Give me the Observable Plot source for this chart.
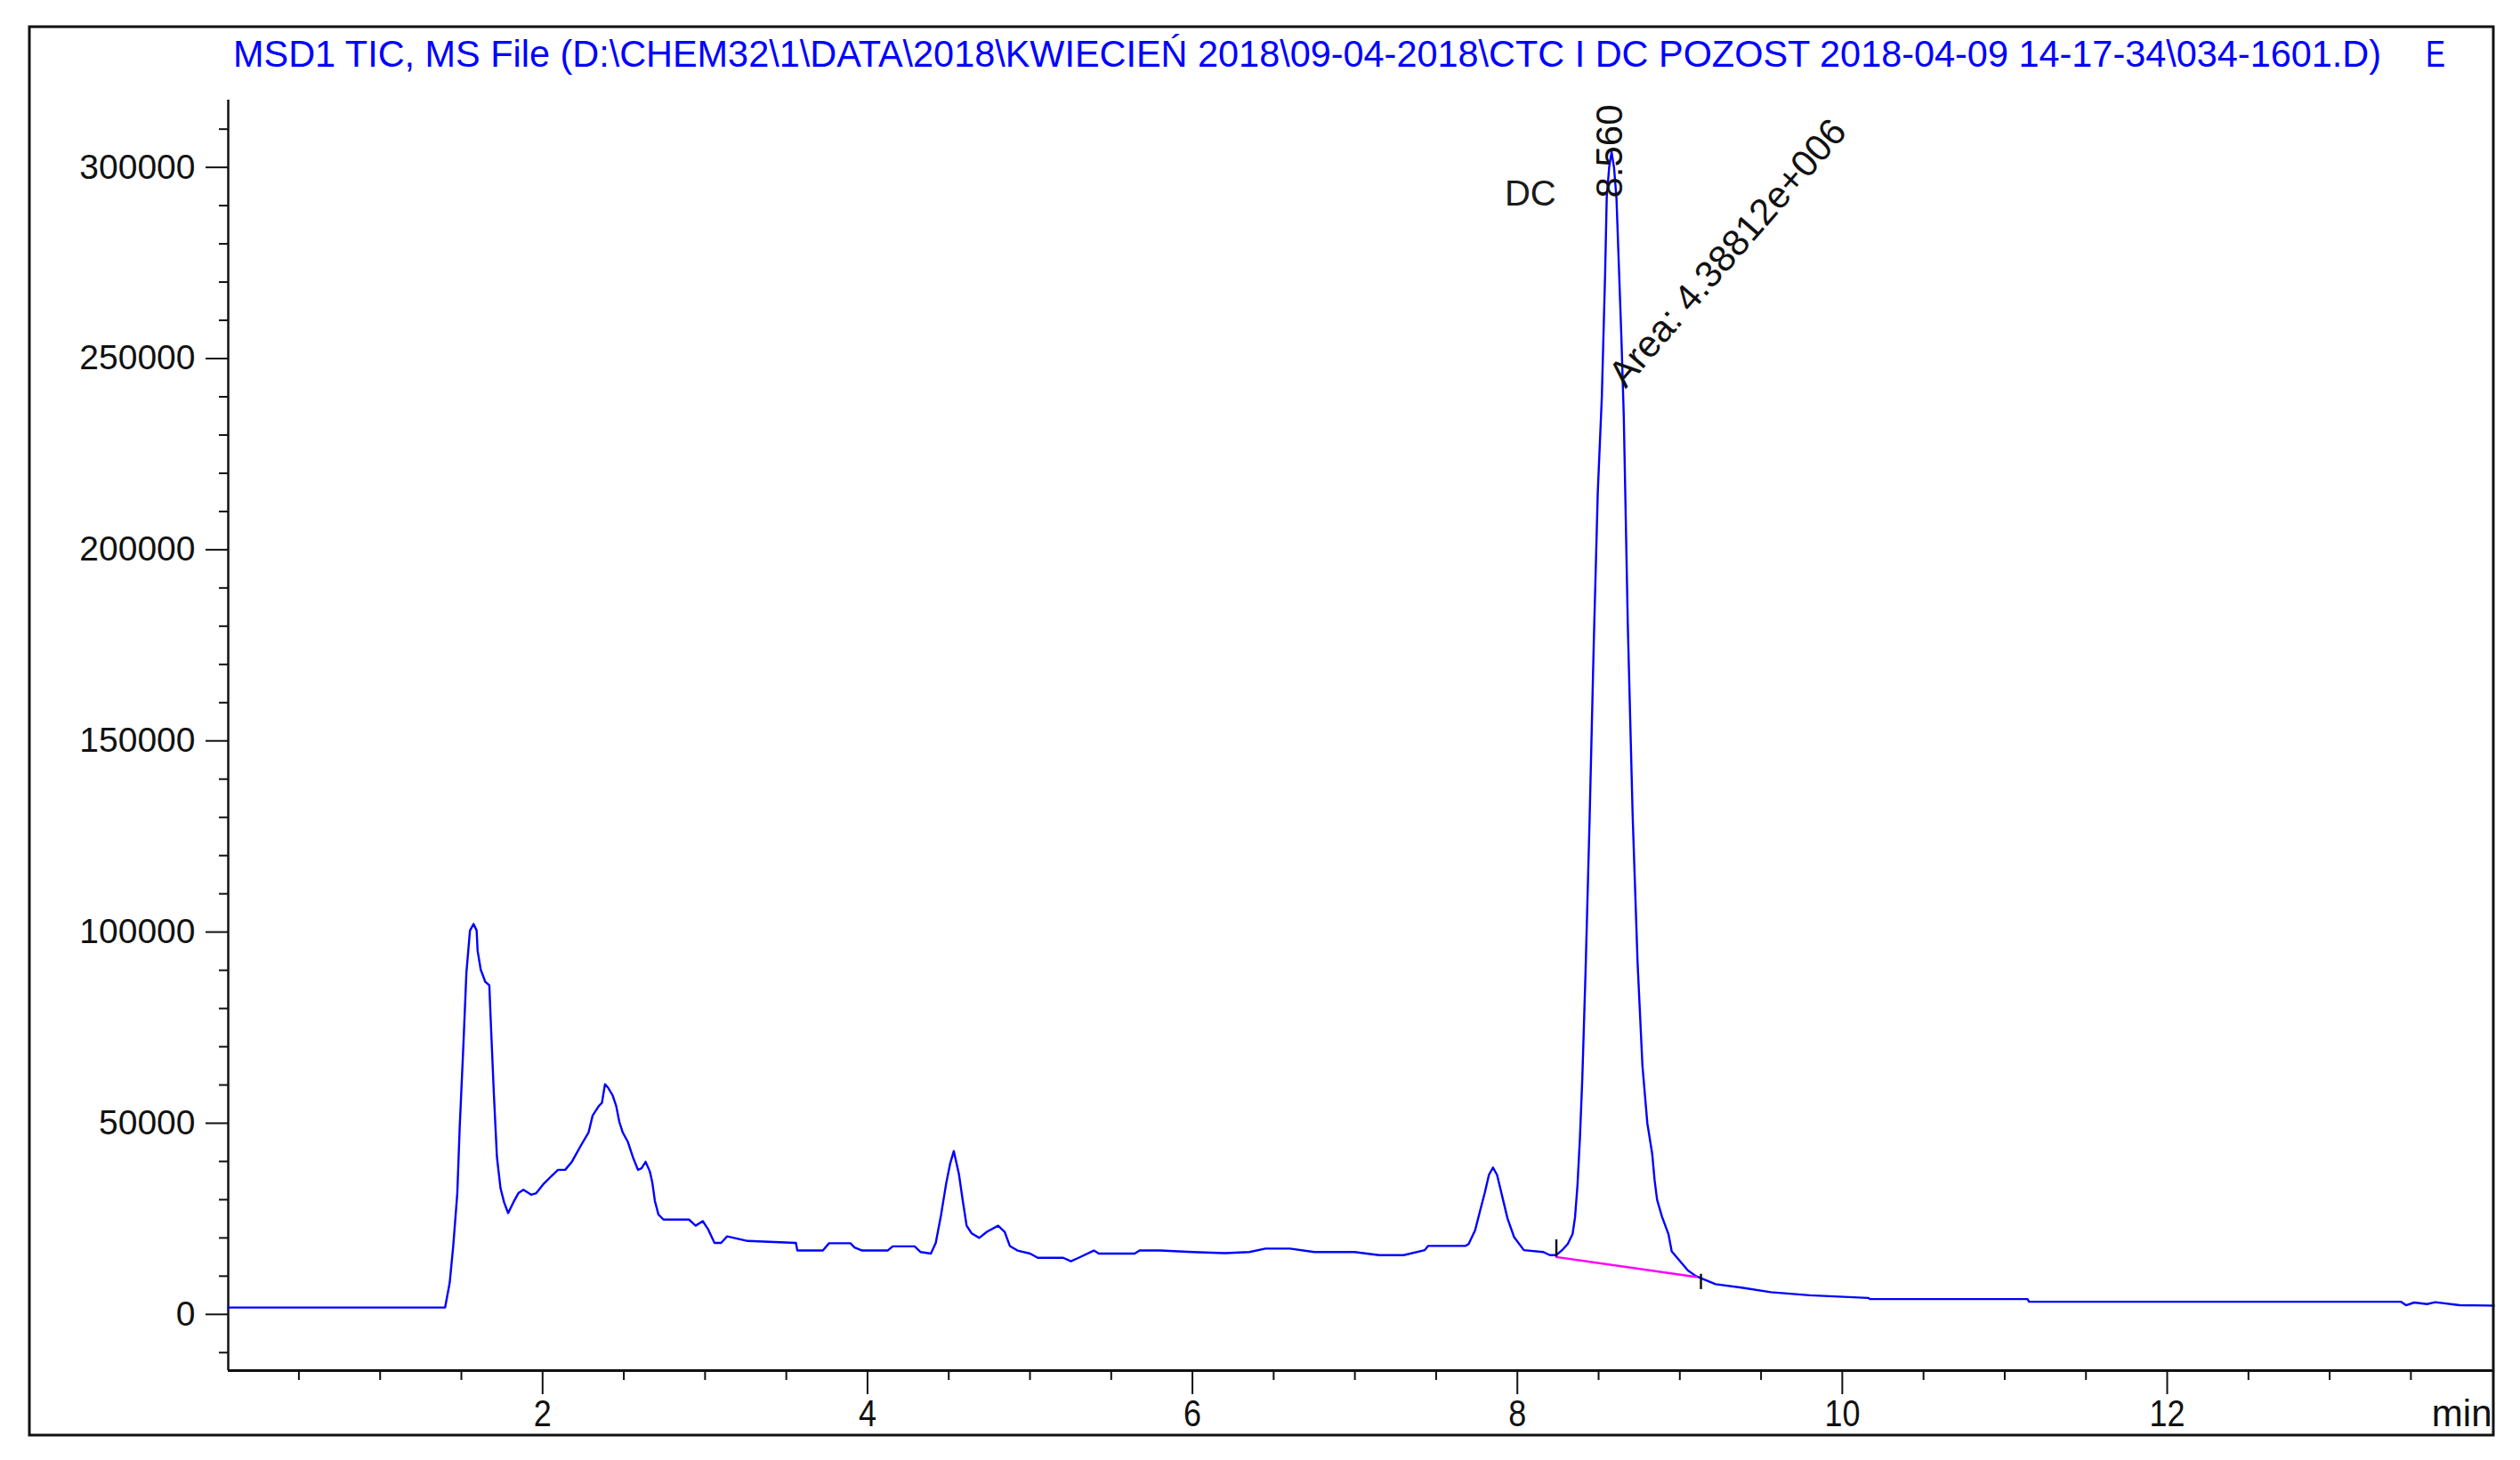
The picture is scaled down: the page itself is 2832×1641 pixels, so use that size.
<!DOCTYPE html>
<html><head><meta charset="utf-8">
<script src="https://cdn.jsdelivr.net/npm/d3@7"></script>
<script src="https://cdn.jsdelivr.net/npm/@observablehq/plot@0.6"></script>
<style>
html,body{margin:0;padding:0;background:#fff;}
#chart{width:2832px;height:1641px;}
</style></head><body><div id="chart"></div>
<script>
const titleText = "MSD1 TIC, MS File (D:\\CHEM32\\1\\DATA\\2018\\KWIECIEŃ 2018\\09-04-2018\\CTC I DC POZOST 2018-04-09 14-17-34\\034-1601.D)";
const titleSuffix = "E";

// retention time (min)
const times = [0.065,1.40,1.428,1.45,1.475,1.49,1.512,1.531,1.553,1.575,1.594,1.60,1.619,1.647,1.672,1.682,1.70,1.719,1.741,1.763,1.788,1.82,1.851,1.882,1.929,1.961,2.008,2.055,2.095,2.139,2.18,2.211,2.243,2.283,2.308,2.346,2.365,2.384,2.403,2.431,2.453,2.472,2.493,2.525,2.556,2.587,2.609,2.634,2.66,2.675,2.691,2.713,2.744,2.901,2.942,2.986,3.017,3.058,3.099,3.136,3.262,3.559,3.568,3.725,3.763,3.895,3.92,3.967,4.124,4.155,4.29,4.327,4.39,4.42,4.453,4.484,4.509,4.531,4.563,4.585,4.61,4.641,4.688,4.735,4.804,4.844,4.876,4.923,5.001,5.048,5.205,5.252,5.299,5.393,5.424,5.644,5.675,5.8,6.0,6.2,6.35,6.45,6.6,6.75,7.0,7.15,7.3,7.43,7.45,7.68,7.70,7.74,7.77,7.80,7.825,7.85,7.875,7.91,7.94,7.98,8.04,8.16,8.20,8.24,8.28,8.31,8.34,8.355,8.37,8.385,8.40,8.42,8.445,8.47,8.495,8.52,8.54,8.55,8.565,8.58,8.595,8.61,8.62,8.64,8.655,8.68,8.71,8.74,8.77,8.80,8.83,8.845,8.86,8.89,8.93,8.95,9.0,9.05,9.10,9.14,9.22,9.38,9.56,9.8,10.16,10.17,11.14,11.15,13.44,13.47,13.52,13.6,13.65,13.8,14.01];
// total ion current (counts)
const tic = [1800,1800,8200,17900,31700,49200,70000,89400,100400,102100,100400,95100,90200,87000,86100,75600,57700,41100,33000,29300,26500,29300,31700,32600,31300,31700,34200,36200,37800,37800,39900,42300,44700,47600,52000,54500,55300,60200,59300,57300,54500,50400,47600,45100,41100,37800,38200,39900,37400,34600,29700,26100,24800,24800,23200,24400,22400,18700,18700,20400,19200,18700,16700,16700,18600,18600,17500,16700,16700,17800,17800,16300,15900,18700,26100,34200,39500,42700,36600,30100,23200,21200,20000,21600,23200,21600,17900,16700,15900,14800,14800,13900,14800,16700,15900,15900,16700,16700,16300,16000,16300,17200,17200,16300,16300,15500,15500,16800,17900,17900,18400,22000,27000,31900,36500,38400,36500,30300,25000,20200,16800,16300,15500,15500,17000,18400,21000,25400,33700,46000,62000,90000,130000,175000,215000,240000,272000,292000,300000,304000,300000,292000,280000,256000,235000,180000,130000,92000,65000,50000,42000,35000,30000,25600,21000,16500,14000,11500,10000,9300,7900,7000,5800,5000,4300,4000,4000,3300,3300,2400,3100,2700,3200,2400,2300];

// integration baseline of the DC peak
const baseTimes = [8.24, 9.10];
const baseValues = [15000, 9800];
// peak start / end markers
const markTimes = [8.24, 9.13];
const markLow = [15000, 6500];
const markHigh = [19500, 10500];

// annotations
const compoundName = "DC";
const compoundTime = 8.08, compoundValue = 293000;
const rtLabel = "8.560";
const rtTime = 8.57, rtValue = 292000;
const areaLabel = "Area: 4.38812e+006";
const areaTime = 8.665, areaValue = 242000;
const xUnit = "min";

// ticks
const xMajor = [2, 4, 6, 8, 10, 12];
const xMinor = [0.5,1,1.5,2.5,3,3.5,4.5,5,5.5,6.5,7,7.5,8.5,9,9.5,10.5,11,11.5,12.5,13,13.5];
const yMajor = [0, 50000, 100000, 150000, 200000, 250000, 300000];
const yMinor = d3.range(-10000, 320000, 10000).filter(v => v % 50000 !== 0);

const xDomain = [0.065, 14.01];
const yDomain = [-14700, 317600];

const trace = times.map((t, i) => ({t, v: tic[i]}));
const baseline = baseTimes.map((t, i) => ({t, v: baseValues[i]}));
const markers = markTimes.map((t, i) => ({t, lo: markLow[i], hi: markHigh[i]}));

const FONT = "Liberation Sans, Arial, sans-serif";
const W = 2832, H = 1641;

const plot = Plot.plot({
  width: W, height: H,
  marginLeft: 256, marginRight: 30, marginTop: 112, marginBottom: 101,
  x: {domain: xDomain},
  y: {domain: yDomain},
  style: {background: "white", fontFamily: FONT, color: "#111"},
  marks: [
    Plot.axisX({ticks: xMinor, tickSize: 11, strokeWidth: 2, tickFormat: () => "", label: null}),
    Plot.axisX({ticks: xMajor, tickSize: 27, tickPadding: 6, strokeWidth: 2, tickFormat: d => String(d), fontSize: 42, label: null}),
    Plot.axisY({ticks: yMinor, tickSize: 10, strokeWidth: 2, tickFormat: () => "", label: null}),
    Plot.axisY({ticks: yMajor, tickSize: 25, tickPadding: 12, strokeWidth: 2, tickFormat: d => String(d), fontSize: 39, label: null}),
    Plot.ruleY([yDomain[0]], {stroke: "#111", strokeWidth: 3}),
    Plot.ruleX([xDomain[0]], {stroke: "#111", strokeWidth: 2.5}),
    Plot.line(trace, {x: "t", y: "v", stroke: "#0000ff", strokeWidth: 2.4}),
    Plot.line(baseline, {x: "t", y: "v", stroke: "#ff00ff", strokeWidth: 2.5}),
    Plot.ruleX(markers, {x: "t", y1: "lo", y2: "hi", stroke: "#111", strokeWidth: 2.5}),
    Plot.text([compoundName], {x: () => compoundTime, y: () => compoundValue, text: d => d, fontSize: 40, fill: "#1a1a1a"}),
    Plot.text([rtLabel], {x: () => rtTime, y: () => rtValue, text: d => d, rotate: -90, textAnchor: "start", lineAnchor: "middle", fontSize: 42, fill: "#111"}),
    Plot.text([areaLabel], {x: () => areaTime, y: () => areaValue, text: d => d, rotate: -49, textAnchor: "start", lineAnchor: "bottom", fontSize: 42, fill: "#111"}),
    Plot.text([xUnit], {frameAnchor: "bottom-right", text: d => d, dy: 33, dx: -2, textAnchor: "end", lineAnchor: "top", fontSize: 42, fill: "#111"})
  ]
});

const svg = d3.select(plot);
// condensed x tick labels
svg.selectAll('g[aria-label="x-axis tick label"] text').each(function() {
  const s = this.textContent;
  if (s) d3.select(this).attr("textLength", s.length * 20).attr("lengthAdjust", "spacingAndGlyphs");
});
// outer frame
svg.append("rect").attr("x", 33).attr("y", 30).attr("width", 2769).attr("height", 1583)
  .attr("fill", "none").attr("stroke", "#111").attr("stroke-width", 3);
// title
svg.append("text").attr("x", 262).attr("y", 75).attr("fill", "#0000ff")
  .attr("text-anchor", "start")
  .attr("font-family", FONT).attr("font-size", 42)
  .attr("textLength", 2414).attr("lengthAdjust", "spacingAndGlyphs").text(titleText);
svg.append("text").attr("x", 2726).attr("y", 75).attr("fill", "#0000ff")
  .attr("text-anchor", "start")
  .attr("font-family", FONT).attr("font-size", 42)
  .attr("textLength", 22).attr("lengthAdjust", "spacingAndGlyphs").text(titleSuffix);

document.getElementById("chart").append(plot);
</script></body></html>
